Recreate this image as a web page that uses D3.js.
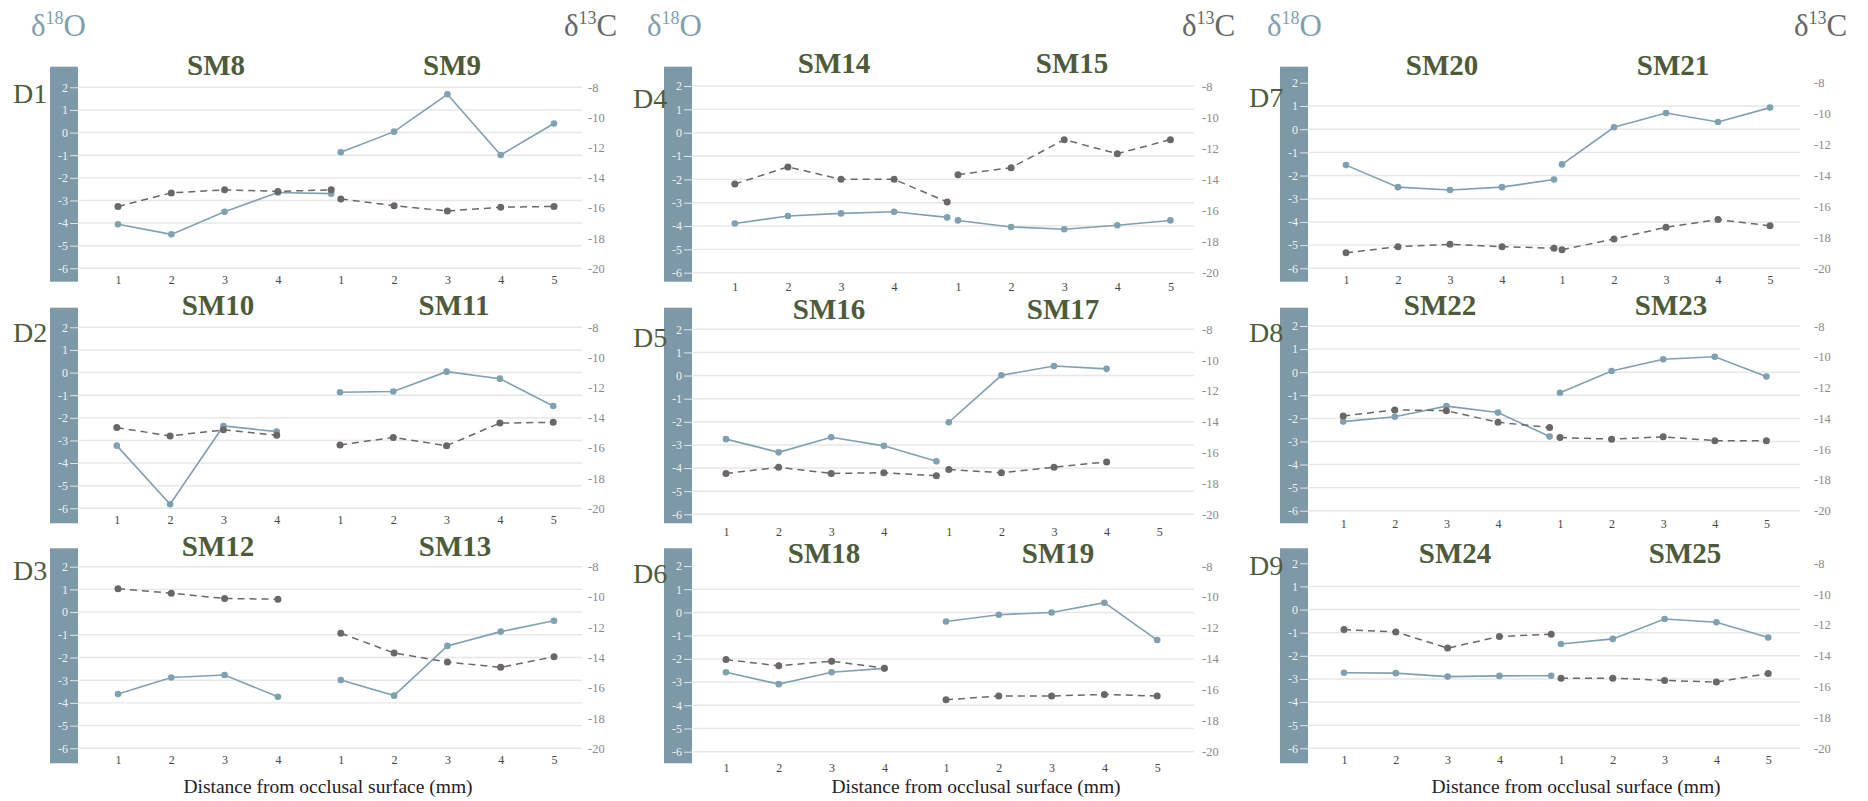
<!DOCTYPE html>
<html>
<head>
<meta charset="utf-8">
<script src="https://cdn.jsdelivr.net/npm/d3@7"></script>
<style>
  body { margin: 0; background: #fff; }
  svg { display: block; font-family: "Liberation Serif", "Times New Roman", serif; }
</style>
</head>
<body>
<svg id="chart"></svg>
<script>
// ---- data ----
const panelNames = ["D1", "D2", "D3", "D4", "D5", "D6", "D7", "D8", "D9"];
const sampleNames = ["SM8", "SM9", "SM10", "SM11", "SM12", "SM13", "SM14", "SM15", "SM16",
  "SM17", "SM18", "SM19", "SM20", "SM21", "SM22", "SM23", "SM24", "SM25"];

// δ18O per sample (left axis)
const d18O = [
  [-4.05, -4.5, -3.5, -2.65, -2.7],
  [-0.87, 0.04, 1.69, -0.99, 0.4],
  [-3.23, -5.82, -2.36, -2.61],
  [-0.87, -0.84, 0.04, -0.27, -1.48],
  [-3.61, -2.88, -2.77, -3.73],
  [-2.99, -3.68, -1.49, -0.86, -0.38],
  [-3.89, -3.57, -3.46, -3.39, -3.63],
  [-3.76, -4.04, -4.14, -3.97, -3.76],
  [-2.75, -3.32, -2.67, -3.04, -3.71],
  [-2.02, 0.01, 0.41, 0.29],
  [-2.58, -3.09, -2.58, -2.41],
  [-0.39, -0.1, 0.0, 0.42, -1.19],
  [-1.55, -2.5, -2.62, -2.5, -2.17],
  [-1.52, 0.08, 0.7, 0.31, 0.93],
  [-2.14, -1.93, -1.47, -1.75, -2.79],
  [-0.89, 0.05, 0.56, 0.67, -0.19],
  [-2.73, -2.75, -2.9, -2.87, -2.86],
  [-1.49, -1.27, -0.41, -0.55, -1.21]
];

// δ13C per sample (right axis)
const d13C = [
  [-15.9, -15.0, -14.8, -14.9, -14.8],
  [-15.4, -15.85, -16.2, -15.95, -15.9],
  [-14.65, -15.2, -14.8, -15.15],
  [-15.8, -15.3, -15.85, -14.35, -14.3],
  [-9.45, -9.75, -10.1, -10.15],
  [-12.4, -13.7, -14.3, -14.65, -13.95],
  [-14.3, -13.2, -14.0, -14.0, -15.45],
  [-13.7, -13.25, -11.45, -12.35, -11.45],
  [-17.35, -16.95, -17.35, -17.3, -17.5],
  [-17.1, -17.3, -16.95, -16.6],
  [-14.05, -14.45, -14.15, -14.6],
  [-16.65, -16.4, -16.4, -16.3, -16.4],
  [-19.0, -18.6, -18.45, -18.6, -18.7],
  [-18.8, -18.1, -17.35, -16.85, -17.25],
  [-13.85, -13.45, -13.5, -14.25, -14.6],
  [-15.25, -15.35, -15.2, -15.45, -15.45],
  [-12.3, -12.45, -13.5, -12.75, -12.6],
  [-15.45, -15.45, -15.6, -15.7, -15.15]
];

const leftTicks = [-6, -5, -4, -3, -2, -1, 0, 1, 2];
const rightTicks = [-20, -18, -16, -14, -12, -10, -8];
const xTicksFirst = [1, 2, 3, 4];
const xTicksSecond = [1, 2, 3, 4, 5];
const noTopGrid = ["D6", "D7", "D9"];

// ---- layout ----
const width = 1868, height = 801;
const columns = [
  { barX: 50, gridX1: 582, rightX: 588, labelX: 13, oX: 31, cX: 564, axisX: 328 },
  { barX: 664, gridX1: 1194, rightX: 1202, labelX: 633, oX: 647, cX: 1182, axisX: 976 },
  { barX: 1280, gridX1: 1800, rightX: 1814, labelX: 1249, oX: 1267, cX: 1794, axisX: 1576 }
];
const barW = 28;
const panels = [
  { y2: 87.3, y6: 268.3, top: 66.7, bot: 281.7, tickY: 280, titleY: 75, labelY: 103, xa: 118, xb: 340.8, step: 53.3, ta: 216, tb: 452 },
  { y2: 327.3, y6: 508.3, top: 307.7, bot: 523.3, tickY: 520, titleY: 315, labelY: 342, xa: 116.8, xb: 340, step: 53.3, ta: 218, tb: 454 },
  { y2: 566.7, y6: 748.3, top: 548.3, bot: 763.3, tickY: 760, titleY: 556, labelY: 580, xa: 118, xb: 340.8, step: 53.3, ta: 218, tb: 455 },
  { y2: 86, y6: 272.7, top: 66.7, bot: 281.7, tickY: 286.7, titleY: 73, labelY: 108, xa: 734.8, xb: 958, step: 53.1, ta: 834, tb: 1072 },
  { y2: 329.3, y6: 514.3, top: 307.7, bot: 523.3, tickY: 531.7, titleY: 319, labelY: 347, xa: 726, xb: 948.8, step: 52.6, ta: 829, tb: 1063 },
  { y2: 566, y6: 751.7, top: 548.3, bot: 763.3, tickY: 767.3, titleY: 563, labelY: 583, xa: 726, xb: 946, step: 52.8, ta: 824, tb: 1058 },
  { y2: 82.8, y6: 268.3, top: 66.7, bot: 281.7, tickY: 280, titleY: 75, labelY: 107, xa: 1346, xb: 1562, step: 52, ta: 1442, tb: 1673 },
  { y2: 326, y6: 510.7, top: 307.7, bot: 523.3, tickY: 524, titleY: 315, labelY: 342, xa: 1343.2, xb: 1560, step: 51.6, ta: 1440, tb: 1671 },
  { y2: 563.3, y6: 748.3, top: 548.3, bot: 763.3, tickY: 760, titleY: 563, labelY: 575, xa: 1344, xb: 1561, step: 51.8, ta: 1455, tb: 1685 }
];

const blue = "#7fa0b1";
const grey = "#6b6767";
const olive = "#4d5b3b";

const svg = d3.select("#chart").attr("width", width).attr("height", height);

// column headers + axis titles
columns.forEach(col => {
  const o = svg.append("text")
    .attr("x", col.oX).attr("y", 36)
    .attr("font-size", "31px").attr("fill", "#7e9fb1");
  o.append("tspan").text("δ");
  o.append("tspan").attr("font-size", "18px").attr("dy", "-12").text("18");
  o.append("tspan").attr("dy", "12").text("O");

  const c = svg.append("text")
    .attr("x", col.cX).attr("y", 36)
    .attr("font-size", "31px").attr("fill", "#676767");
  c.append("tspan").text("δ");
  c.append("tspan").attr("font-size", "18px").attr("dy", "-12").text("13");
  c.append("tspan").attr("dy", "12").text("C");

  svg.append("text")
    .attr("x", col.axisX).attr("y", 793)
    .attr("text-anchor", "middle")
    .attr("font-size", "19.5px").attr("fill", "#222")
    .text("Distance from occlusal surface (mm)");
});

panels.forEach((p, i) => {
  const col = columns[Math.floor(i / 3)];
  const name = panelNames[i];
  const s1 = 2 * i, s2 = 2 * i + 1;
  const g = svg.append("g");

  const yL = d3.scaleLinear().domain([-6, 2]).range([p.y6, p.y2]);
  const yR = d3.scaleLinear().domain([-20, -8]).range([p.y6, p.y2]);
  const xA = d3.scaleLinear().domain([1, 5]).range([p.xa, p.xa + 4 * p.step]);
  const xB = d3.scaleLinear().domain([1, 5]).range([p.xb, p.xb + 4 * p.step]);

  // blue bar behind the left axis
  g.append("rect")
    .attr("x", col.barX).attr("y", p.top)
    .attr("width", barW).attr("height", p.bot - p.top)
    .attr("fill", "#7d98a6");

  // gridlines
  g.selectAll(".grid")
    .data(leftTicks.filter(t => !(t === 2 && noTopGrid.includes(name))))
    .join("line")
    .attr("x1", col.barX + barW + 1).attr("x2", col.gridX1)
    .attr("y1", d => yL(d)).attr("y2", d => yL(d))
    .attr("stroke", "#e7e7e7").attr("stroke-width", 1.4);

  // left axis inside the bar
  const la = g.append("g")
    .attr("transform", `translate(${col.barX + barW},0)`)
    .call(d3.axisLeft(yL).tickValues(leftTicks).tickSize(8).tickPadding(2).tickFormat(d => String(d)));
  la.select(".domain").remove();
  la.selectAll(".tick line").attr("stroke", "#dfe7eb").attr("stroke-width", 1);
  la.selectAll(".tick text")
    .attr("fill", "#eef3f5").attr("font-size", "12px")
    .attr("font-family", "Liberation Serif, serif");

  // right axis (δ13C)
  const ra = g.append("g")
    .attr("transform", `translate(${col.rightX},0)`)
    .call(d3.axisRight(yR).tickValues(rightTicks).tickSize(0).tickPadding(0).tickFormat(d => String(d)));
  ra.select(".domain").remove();
  ra.selectAll(".tick text")
    .attr("fill", "#8a8a8a").attr("font-size", "12.5px")
    .attr("font-family", "Liberation Serif, serif");

  // bottom tick labels for both samples
  [[xA, xTicksFirst], [xB, xTicksSecond]].forEach(([x, ticks]) => {
    const ba = g.append("g")
      .attr("transform", `translate(0,${p.tickY})`)
      .call(d3.axisBottom(x).tickValues(ticks).tickSize(0).tickFormat(d => String(d)));
    ba.select(".domain").remove();
    ba.selectAll(".tick text")
      .attr("y", 0).attr("dy", "0.35em")
      .attr("fill", "#444").attr("font-size", "12px")
      .attr("font-family", "Liberation Serif, serif");
  });

  // panel label and sample titles
  g.append("text")
    .attr("x", col.labelX).attr("y", p.labelY)
    .attr("font-size", "28px").attr("fill", olive)
    .text(name);
  g.append("text")
    .attr("x", p.ta).attr("y", p.titleY)
    .attr("text-anchor", "middle").attr("font-weight", "bold")
    .attr("font-size", "29px").attr("fill", olive)
    .text(sampleNames[s1]);
  g.append("text")
    .attr("x", p.tb).attr("y", p.titleY)
    .attr("text-anchor", "middle").attr("font-weight", "bold")
    .attr("font-size", "29px").attr("fill", olive)
    .text(sampleNames[s2]);

  // series lines
  [[s1, xA], [s2, xB]].forEach(([s, x]) => {
    const oData = d18O[s].map((v, k) => ({ pos: k + 1, v }));
    const cData = d13C[s].map((v, k) => ({ pos: k + 1, v }));

    g.append("path")
      .datum(oData)
      .attr("fill", "none").attr("stroke", blue).attr("stroke-width", 1.6)
      .attr("d", d3.line().x(d => x(d.pos)).y(d => yL(d.v)));
    g.selectAll(null)
      .data(oData)
      .join("circle")
      .attr("cx", d => x(d.pos)).attr("cy", d => yL(d.v))
      .attr("r", 3.3).attr("fill", blue);

    g.append("path")
      .datum(cData)
      .attr("fill", "none").attr("stroke", grey).attr("stroke-width", 1.5)
      .attr("stroke-dasharray", "7,5")
      .attr("d", d3.line().x(d => x(d.pos)).y(d => yR(d.v)));
    g.selectAll(null)
      .data(cData)
      .join("circle")
      .attr("cx", d => x(d.pos)).attr("cy", d => yR(d.v))
      .attr("r", 3.5).attr("fill", grey);
  });
});
</script>
</body>
</html>
